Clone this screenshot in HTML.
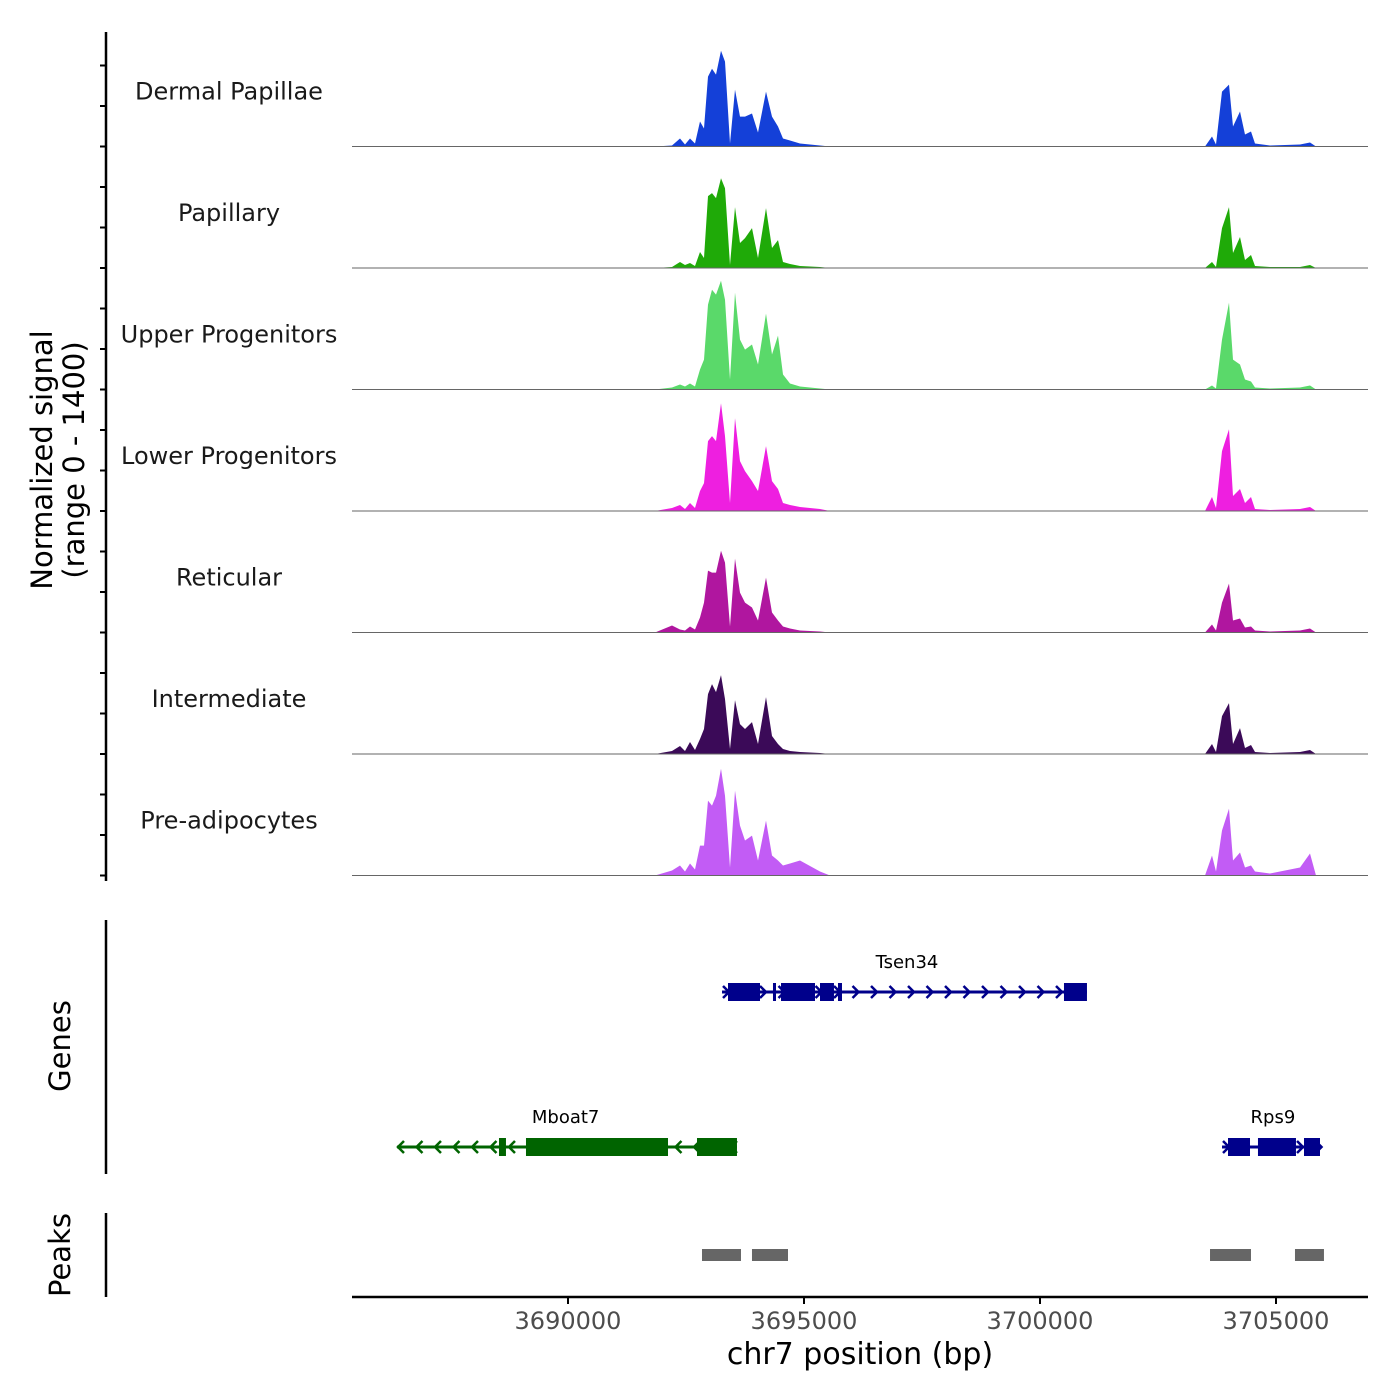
<!DOCTYPE html>
<html><head><meta charset="utf-8"><style>
body{margin:0;background:#fff;}
svg{display:block;font-family:"DejaVu Sans","Liberation Sans",sans-serif;}
</style></head><body>
<svg id="chart" width="1400" height="1400" viewBox="0 0 1400 1400" xmlns="http://www.w3.org/2000/svg">
<g id="tracks"></g>
<g id="genes"></g>
<g id="peaks"></g>
<g id="axes"></g>
</svg>
<script>
const positions=[3685424,3691843,3692203,3692373,3692479,3692585,3692691,3692797,3692881,3692966,3693051,3693136,3693241,3693326,3693432,3693538,3693644,3693750,3693898,3694025,3694195,3694322,3694449,3694555,3694703,3694915,3695339,3695551,3703496,3703644,3703729,3703856,3704004,3704089,3704237,3704343,3704470,3704555,3704873,3705508,3705720,3705847,3706949];
const trackNames=["Dermal Papillae","Papillary","Upper Progenitors","Lower Progenitors","Reticular","Intermediate","Pre-adipocytes"];
const trackColors=["#1440d8","#1faa08","#5ad96a","#ee1fe0","#b0169f","#3b0a58","#c25cf5"];
// signal values (0-1400 scale) per track
const dermalPapillae=[0,0,12,92,23,92,35,288,207,805,897,828,1104,978,35,656,345,345,380,161,633,345,230,92,69,35,12,0,0,115,23,633,713,230,403,138,173,35,12,23,46,0,0];
const papillary=[0,0,12,69,35,58,23,184,115,828,863,805,1035,920,35,702,288,345,460,115,690,230,322,69,46,23,12,0,0,69,12,460,702,173,357,92,150,23,12,12,35,0,0];
const upperProgenitors=[0,0,23,58,35,69,35,230,345,978,1150,1093,1254,1035,115,1116,575,460,518,288,874,403,621,173,69,35,12,0,0,46,12,575,1001,345,288,115,92,23,12,23,46,0,0];
const lowerProgenitors=[0,0,35,69,23,92,35,230,322,805,863,805,1242,863,92,1070,575,460,345,230,748,345,253,92,69,46,23,0,0,161,35,690,943,173,253,92,161,23,12,23,46,0,0];
const reticular=[0,0,81,35,23,69,35,173,345,713,690,690,943,805,69,851,460,345,288,138,633,230,138,69,46,23,12,0,0,92,23,345,564,138,161,58,69,23,12,23,46,0,0];
const intermediate=[0,0,35,92,35,138,46,173,288,690,805,713,909,633,58,621,345,288,368,115,656,207,115,58,35,23,12,0,0,115,23,437,587,115,299,69,104,23,12,23,46,0,0];
const preAdipocytes=[0,0,58,115,46,138,69,345,345,863,805,920,1231,920,92,978,575,403,460,173,633,230,173,115,138,173,46,0,0,230,46,518,771,173,265,92,115,46,23,92,253,0,0];
const trackValues=[dermalPapillae,papillary,upperProgenitors,lowerProgenitors,reticular,intermediate,preAdipocytes];
const xTicks=[3690000,3695000,3700000,3705000];
const genes=[
 {name:"Tsen34",strand:1,start:3693263,end:3700995,row:0,color:"#00008b",labelBp:3697182,exons:[[3693390,3694068],[3694343,3694407],[3694513,3695233],[3695339,3695635],[3695720,3695805],[3700508,3700995]]},
 {name:"Mboat7",strand:-1,start:3686377,end:3693580,row:1,color:"#006400",labelBp:3689950,exons:[[3688538,3688686],[3689110,3692119],[3692733,3693580]]},
 {name:"Rps9",strand:1,start:3703856,end:3705974,row:1,color:"#00008b",labelBp:3704935,exons:[[3703983,3704449],[3704618,3705423],[3705593,3705932]]}
];
const peakStarts=[3692839,3693898,3703602,3705402];
const peakEnds=[3693665,3694661,3704470,3706016];

const NS="http://www.w3.org/2000/svg";
const X0=352,X1=1368,BP0=3685424,BP1=3706949;
const x=bp=>X0+(bp-BP0)/(BP1-BP0)*(X1-X0);
const TH=121.5,B0=146.5,YMAX=1400;
function mk(tag,attrs,parent){const e=document.createElementNS(NS,tag);for(const k in attrs)e.setAttribute(k,attrs[k]);parent.appendChild(e);return e;}
const tracks=document.getElementById('tracks');
trackValues.forEach((vals,i)=>{
  const base=B0+i*TH;
  const y=v=>base-v/YMAX*TH;
  let d="M"+x(positions[0])+","+base;
  positions.forEach((p,j)=>{d+=" L"+x(p).toFixed(1)+","+y(vals[j]).toFixed(1);});
  d+=" L"+x(positions[positions.length-1])+","+base+" Z";
  const a=mk('path',{d:d,fill:trackColors[i]},tracks);
  
  
  const l=mk('line',{x1:X0,x2:X1,y1:base,y2:base,stroke:"#666",'stroke-width':1},tracks);
  
  
  const t=mk('text',{x:229,y:base-47,'text-anchor':'middle','font-size':24,fill:'#1a1a1a'},tracks);
  t.textContent=trackNames[i];
  
  
});
const axes=document.getElementById('axes');
mk('line',{x1:106,x2:106,y1:32,y2:881,stroke:'#000','stroke-width':2.5},axes);
for(let i=0;i<7;i++){for(let k=0;k<3;k++){const yy=B0+i*TH-k*40.5;mk('line',{x1:100,x2:106,y1:yy,y2:yy,stroke:'#000','stroke-width':2},axes);}}
const yt=mk('text',{transform:'translate(52,460) rotate(-90)','text-anchor':'middle','font-size':29,fill:'#000'},axes);
yt.innerHTML='<tspan x="0" dy="0">Normalized signal</tspan><tspan x="0" dy="32">(range 0 - 1400)</tspan>';


const gG=document.getElementById('genes');
mk('line',{x1:106,x2:106,y1:920,y2:1174,stroke:'#000','stroke-width':2.5},gG);
const gt=mk('text',{transform:'translate(70,1046) rotate(-90)','text-anchor':'middle','font-size':29},gG);gt.textContent='Genes';


genes.forEach(g=>{
  const yy=g.row===0?992:1147;
  const grp=mk('g',{},gG);
  
  
  mk('line',{x1:x(g.start),x2:x(g.end),y1:yy,y2:yy,stroke:g.color,'stroke-width':3},grp);
  const xs=x(g.start),xe=x(g.end);
  for(let px=xs+4;px<xe;px+=18.5){
    const dd=g.strand>0?`M${px-3},${yy-6} L${px+3},${yy} L${px-3},${yy+6}`:`M${px+3},${yy-6} L${px-3},${yy} L${px+3},${yy+6}`;
    mk('path',{d:dd,stroke:g.color,'stroke-width':2.5,fill:'none'},grp);
  }
  g.exons.forEach(e=>mk('rect',{x:x(e[0]),y:yy-9,width:Math.max(3,x(e[1])-x(e[0])),height:18,fill:g.color},grp));
  const lt=mk('text',{x:x(g.labelBp),y:yy-24,'text-anchor':'middle','font-size':18,fill:'#000'},grp);
  lt.textContent=g.name;
  
  
});
const pG=document.getElementById('peaks');
mk('line',{x1:106,x2:106,y1:1213,y2:1297,stroke:'#000','stroke-width':2.5},pG);
const pt=mk('text',{transform:'translate(70,1255) rotate(-90)','text-anchor':'middle','font-size':29},pG);pt.textContent='Peaks';


peakStarts.forEach((s,i)=>{
  const r=mk('rect',{x:x(s),y:1249,width:x(peakEnds[i])-x(s),height:12,fill:'#666'},pG);
  
  
});
mk('line',{x1:X0,x2:X1,y1:1297,y2:1297,stroke:'#000','stroke-width':2.5},axes);
xTicks.forEach(v=>{
  mk('line',{x1:x(v),x2:x(v),y1:1297,y2:1304,stroke:'#000','stroke-width':2},axes);
  const t=mk('text',{x:x(v),y:1329,'text-anchor':'middle','font-size':24,fill:'#4d4d4d'},axes);
  t.textContent=v;
  
  
});
const xt=mk('text',{x:860,y:1364,'text-anchor':'middle','font-size':30,fill:'#000'},axes);
xt.textContent='chr7 position (bp)';


</script>
</body></html>
